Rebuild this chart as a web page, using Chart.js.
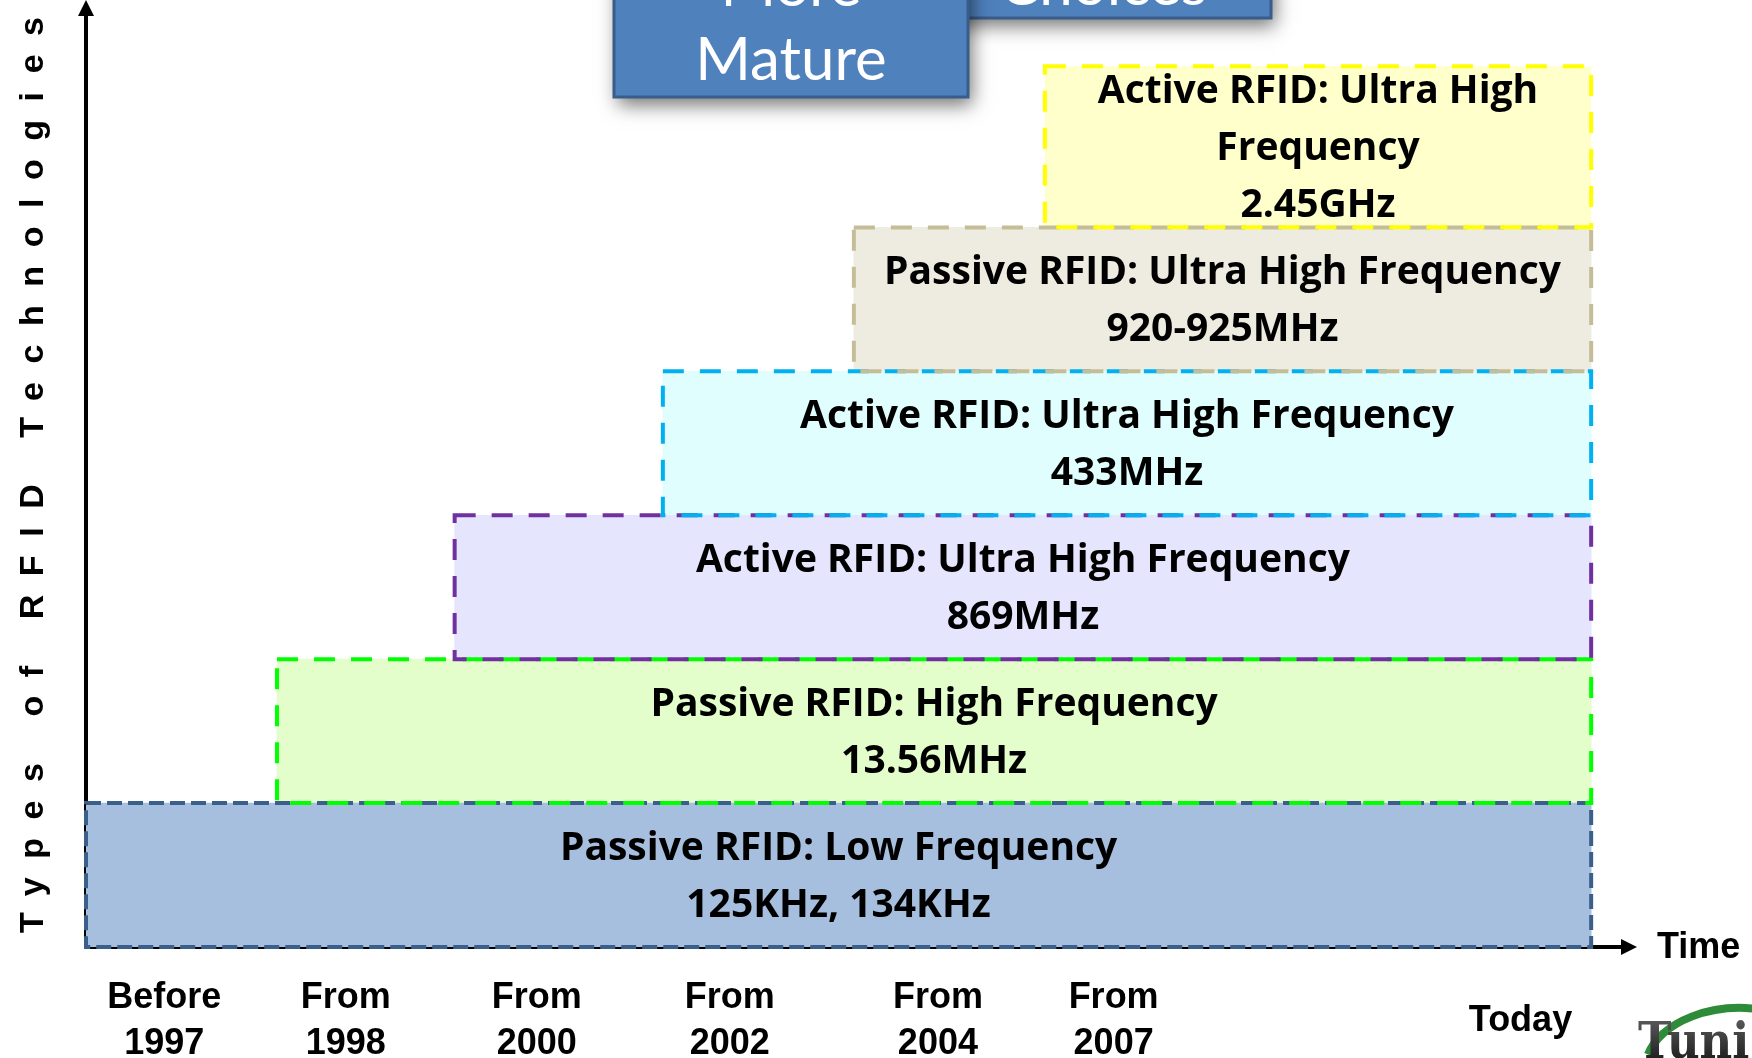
<!DOCTYPE html>
<html lang="en">
<head>
  <meta charset="UTF-8">
  <title>Types of RFID Technologies</title>
  <script src="https://cdn.jsdelivr.net/npm/chart.js"></script>
  <style>
    html, body { margin: 0; padding: 0; background: #fff; }
    #wrap { width: 1752px; height: 1058px; }
  </style>
</head>
<body>
  <div id="wrap"><canvas id="rfidChart" width="1752" height="1058"></canvas></div>

  <script>
    // box texts, bottom row first
    const techLabels = [
      ['Passive RFID: Low Frequency', '125KHz, 134KHz'],
      ['Passive RFID: High Frequency', '13.56MHz'],
      ['Active RFID: Ultra High Frequency', '869MHz'],
      ['Active RFID: Ultra High Frequency', '433MHz'],
      ['Passive RFID: Ultra High Frequency', '920-925MHz'],
      ['Active RFID: Ultra High', 'Frequency', '2.45GHz']
    ];
    // row (level) of each box on the vertical axis
    const rowLevel = [0, 1, 2, 3, 4, 5.06];
    // where each box starts / ends on the time axis
    const startTime = [0, 1.0, 1.93, 3.02, 4.02, 5.02];
    const endTime = [7.88, 7.88, 7.88, 7.88, 7.88, 7.88];
    // time axis labels
    const tickPos = [0.41, 1.36, 2.36, 3.37, 4.46, 5.38, 7.51];
    const tickText = [['Before', '1997'], ['From', '1998'], ['From', '2000'], ['From', '2002'],
                      ['From', '2004'], ['From', '2007'], 'Today'];

    const fillColors = ['#A7BFDE', '#E3FDCB', '#E5E5FD', '#E1FEFE', '#EEECE1', '#FFFFCC'];
    const lineColors = ['#3A5F8B', '#00FF00', '#7030A0', '#00B0F0', '#C4BD97', '#FFFF00'];

    const boxFont = "bold 39px 'Open Sans', Lato, sans-serif";
    const axisFont = "'Liberation Sans', Arial, sans-serif";

    const datasets = techLabels.map((t, i) => ({
      label: t.join(' '),
      data: [{ x: [startTime[i], endTime[i]], y: rowLevel[i] }],
      backgroundColor: fillColors[i],
      borderWidth: 0,
      grouped: false,
      categoryPercentage: 1,
      barPercentage: i === 5 ? 1.118 : 1
    }));

    // axes with arrows, dashed box outlines, box texts and the slide decorations
    const slidePlugin = {
      id: 'slide',
      beforeDatasetsDraw(chart) {
        const { ctx, chartArea: a } = chart;
        ctx.save();
        ctx.strokeStyle = '#000';
        ctx.fillStyle = '#000';
        ctx.lineWidth = 4;
        ctx.beginPath();
        ctx.moveTo(a.left, a.bottom);
        ctx.lineTo(a.left, a.top + 12);
        ctx.moveTo(a.left, a.bottom);
        ctx.lineTo(a.right - 12, a.bottom);
        ctx.stroke();
        ctx.beginPath();
        ctx.moveTo(a.left, a.top);
        ctx.lineTo(a.left - 8, a.top + 16);
        ctx.lineTo(a.left + 8, a.top + 16);
        ctx.closePath();
        ctx.fill();
        ctx.beginPath();
        ctx.moveTo(a.right, a.bottom);
        ctx.lineTo(a.right - 16, a.bottom - 8);
        ctx.lineTo(a.right - 16, a.bottom + 8);
        ctx.closePath();
        ctx.fill();
        ctx.restore();
      },
      afterDatasetsDraw(chart) {
        const { ctx } = chart;
        ctx.save();
        techLabels.forEach((lines, i) => {
          const bar = chart.getDatasetMeta(i).data[0];
          const p = bar.getProps(['x', 'y', 'base', 'height'], true);
          const left = Math.min(p.x, p.base), right = Math.max(p.x, p.base);
          const top = p.y - p.height / 2;
          ctx.lineWidth = 4;
          ctx.strokeStyle = lineColors[i];
          ctx.setLineDash(i === 0 ? [15, 6] : [21, 16]);
          ctx.strokeRect(left, top, right - left, p.height);
        });
        ctx.setLineDash([]);
        ctx.fillStyle = '#000';
        ctx.font = boxFont;
        ctx.textAlign = 'center';
        ctx.textBaseline = 'middle';
        techLabels.forEach((lines, i) => {
          const p = chart.getDatasetMeta(i).data[0].getProps(['x', 'y', 'base'], true);
          const cx = (p.x + p.base) / 2;
          lines.forEach((s, j) => {
            ctx.fillText(s, cx, p.y + 2 + (j - (lines.length - 1) / 2) * 57);
          });
        });
        ctx.restore();
      },
      afterDraw(chart) {
        const { ctx, chartArea: a } = chart;
        ctx.save();

        // vertical axis title, spread out
        const title = 'Types of RFID Technologies';
        ctx.font = 'bold 34px ' + axisFont;
        ctx.fillStyle = '#000';
        const natural = ctx.measureText(title).width;
        const span = 916;
        ctx.letterSpacing = ((span - natural) / (title.length - 1)) + 'px';
        ctx.translate(34, a.bottom - 14);
        ctx.rotate(-Math.PI / 2);
        ctx.textAlign = 'left';
        ctx.textBaseline = 'middle';
        ctx.fillText(title, 0, 0);
        ctx.restore();

        ctx.save();
        ctx.font = 'bold 36px ' + axisFont;
        ctx.fillStyle = '#000';
        ctx.textAlign = 'left';
        ctx.textBaseline = 'middle';
        ctx.fillText('Time', a.right + 20, a.bottom + 1);

        // callout boxes cut by the top edge
        const callout = (x, y, w, h) => {
          ctx.save();
          ctx.shadowColor = 'rgba(0,0,0,0.55)';
          ctx.shadowBlur = 18;
          ctx.shadowOffsetX = 4;
          ctx.shadowOffsetY = 8;
          ctx.fillStyle = '#4F81BD';
          ctx.fillRect(x, y, w, h);
          ctx.restore();
          ctx.lineWidth = 3;
          ctx.strokeStyle = '#385D8A';
          ctx.strokeRect(x, y, w, h);
        };
        callout(934, -90, 337, 108);
        ctx.fillStyle = '#fff';
        ctx.font = "60px Lato, 'Open Sans', sans-serif";
        ctx.textAlign = 'center';
        ctx.textBaseline = 'alphabetic';
        ctx.fillText('Choices', 1103, 5);
        callout(614, -110, 354, 207);
        ctx.fillStyle = '#fff';
        ctx.fillText('More', 791, 6);
        ctx.fillText('Mature', 791, 80);

        // logo in the corner
        ctx.strokeStyle = '#2E8B3A';
        ctx.lineWidth = 8;
        ctx.beginPath();
        ctx.ellipse(1740, 1070, 95, 62, 0, Math.PI * 1.08, Math.PI * 1.62);
        ctx.stroke();
        const g = ctx.createLinearGradient(0, 1010, 0, 1058);
        g.addColorStop(0, '#666');
        g.addColorStop(1, '#222');
        ctx.fillStyle = g;
        ctx.font = "bold 50px 'DejaVu Serif Condensed', 'DejaVu Serif', serif";
        ctx.textAlign = 'left';
        ctx.fillText('Tuni', 1638, 1058);
        ctx.restore();
      }
    };

    new Chart(document.getElementById('rfidChart'), {
      type: 'bar',
      data: { datasets },
      options: {
        indexAxis: 'y',
        responsive: false,
        animation: false,
        devicePixelRatio: 1,
        layout: { padding: { left: 86, right: 115, top: 0, bottom: 0 } },
        plugins: { legend: { display: false }, tooltip: { enabled: false } },
        scales: {
          x: {
            type: 'linear',
            min: 0,
            max: 8.12,
            offset: false,
            grid: { display: false, drawTicks: false },
            border: { display: false },
            afterBuildTicks: s => { s.ticks = tickPos.map(v => ({ value: v })); },
            afterFit: s => { s.height = 111; },
            ticks: {
              autoSkip: false,
              maxRotation: 0,
              padding: 51,
              crossAlign: 'center',
              color: '#000',
              font: { family: axisFont, size: 36, weight: 'bold', lineHeight: 1.28 },
              callback: (v, i) => tickText[i]
            }
          },
          y: {
            type: 'linear',
            display: false,
            offset: false,
            min: -0.5,
            max: 6.08,
            afterBuildTicks: s => { s.ticks = rowLevel.map(v => ({ value: v })); }
          }
        }
      },
      plugins: [slidePlugin]
    });
  </script>
</body>
</html>
